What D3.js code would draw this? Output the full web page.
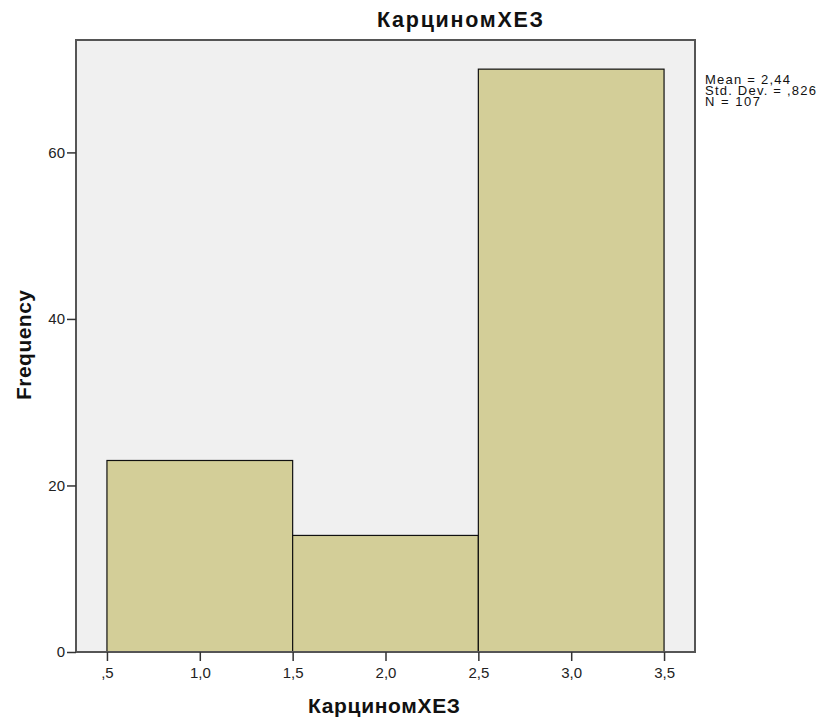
<!DOCTYPE html>
<html><head><meta charset="utf-8">
<script src="https://cdn.jsdelivr.net/npm/d3@7"></script>
<style>body{margin:0;background:#fff}svg{display:block}text{font-family:"Liberation Sans",Arial,sans-serif}</style>
</head><body>
<script>
const binStarts = [0.5, 1.5, 2.5];
const binEnds = [1.5, 2.5, 3.5];
const frequencies = [23, 14, 70];
const xTicks = [0.5, 1.0, 1.5, 2.0, 2.5, 3.0, 3.5];
const xTickLabels = [",5", "1,0", "1,5", "2,0", "2,5", "3,0", "3,5"];
const yTicks = [0, 20, 40, 60];
const statsLines = ["Mean = 2,44", "Std. Dev. = ,826", "N = 107"];
const title = "КарциномХЕЗ";

const W = 824, H = 722;
const L = 76, R = 695, T = 40, B = 652;
const svg = d3.select("body").append("svg").attr("width", W).attr("height", H);

const x = d3.scaleLinear().domain([1/3, 11/3]).range([L, R]);
const y = d3.scaleLinear().domain([0, 73.5]).range([B, T]);

svg.append("rect").attr("x", L).attr("y", T).attr("width", R - L).attr("height", B - T)
  .attr("fill", "#f0f0f0").attr("stroke", "none");

const data = frequencies.map((f, i) => ({x0: binStarts[i], x1: binEnds[i], f}));
svg.selectAll("rect.bar").data(data).enter().append("rect").attr("class", "bar")
  .attr("x", d => x(d.x0)).attr("width", d => x(d.x1) - x(d.x0))
  .attr("y", d => y(d.f)).attr("height", d => y(0) - y(d.f))
  .attr("fill", "#d3ce98").attr("stroke", "#111").attr("stroke-width", 1.2);

svg.append("rect").attr("x", L).attr("y", T).attr("width", R - L).attr("height", B - T)
  .attr("fill", "none").attr("stroke", "#555").attr("stroke-width", 2);

const xAxis = d3.axisBottom(x).tickValues(xTicks).tickSize(9).tickPadding(6)
  .tickFormat((d, i) => xTickLabels[i]);
const gx = svg.append("g").attr("transform", `translate(0,${B})`).call(xAxis);
gx.attr("font-size", 15);
gx.select(".domain").remove();
gx.selectAll("line").attr("stroke", "#333").attr("stroke-width", 1.5);
gx.selectAll("text").style("font-size", "15px").attr("fill", "#222");

const yAxis = d3.axisLeft(y).tickValues(yTicks).tickSize(9).tickPadding(2);
const gy = svg.append("g").attr("transform", `translate(${L},0)`).call(yAxis);
gy.attr("font-size", 15);
gy.select(".domain").remove();
gy.selectAll("line").attr("stroke", "#333").attr("stroke-width", 1.5);
gy.selectAll("text").style("font-size", "15px").attr("fill", "#222");

svg.append("text").attr("x", 377).attr("y", 27).attr("textLength", 166)
  .attr("lengthAdjust", "spacing")
  .attr("font-size", 21.5).attr("font-weight", "bold").attr("fill", "#111").text(title);
svg.append("text").attr("x", 308).attr("y", 713).attr("textLength", 152)
  .attr("lengthAdjust", "spacing")
  .attr("font-size", 21).attr("font-weight", "bold").attr("fill", "#111").text(title);
svg.append("text").attr("transform", `translate(31,345) rotate(-90)`)
  .attr("text-anchor", "middle").attr("font-size", 21).attr("font-weight", "bold")
  .attr("textLength", 110).attr("lengthAdjust", "spacing")
  .attr("fill", "#111").text("Frequency");

const statsWidths = [85, 111, 55];
svg.append("g").selectAll("text").data(statsLines).enter().append("text")
  .attr("x", 705).attr("y", (d, i) => 84 + i * 11).attr("font-size", 13)
  .attr("textLength", (d, i) => statsWidths[i]).attr("lengthAdjust", "spacing")
  .attr("fill", "#111").text(d => d);
</script>
</body></html>
